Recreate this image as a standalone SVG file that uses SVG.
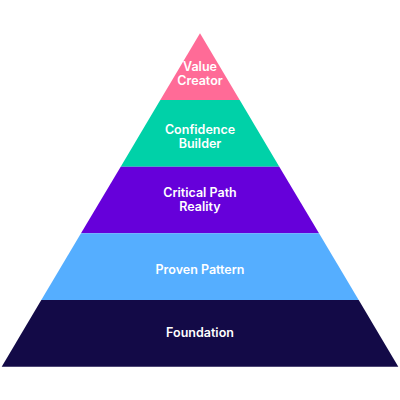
<svg xmlns="http://www.w3.org/2000/svg" width="400" height="400" viewBox="0 0 400 400">
<style>
.lbl{font-family:Inter,"Noto Sans","Liberation Sans",sans-serif;font-size:12.5px;font-weight:600;fill:#ffffff;text-anchor:middle}
</style>
<rect width="400" height="400" fill="#ffffff"/>
<g id="layer-value-creator">
<polygon points="200,33.3 239.7,100 160.3,100" fill="#FF6B97"/>
<text class="lbl" x="200" y="70.7">Value</text>
<text class="lbl" x="200" y="85">Creator</text>
</g>
<g id="layer-confidence-builder">
<polygon points="160.3,100 239.7,100 279.3,166.7 120.7,166.7" fill="#00D1A8"/>
<text class="lbl" x="200" y="134">Confidence</text>
<text class="lbl" x="200" y="148.3">Builder</text>
</g>
<g id="layer-critical-path">
<polygon points="120.7,166.7 279.3,166.7 319,233.3 81,233.3" fill="#6600DA"/>
<text class="lbl" x="200" y="197.3">Critical Path</text>
<text class="lbl" x="200" y="211.3">Reality</text>
</g>
<g id="layer-proven-pattern">
<polygon points="81,233.3 319,233.3 358.7,300 41.3,300" fill="#55AEFF"/>
<text class="lbl" x="200" y="274.3">Proven Pattern</text>
</g>
<g id="layer-foundation">
<polygon points="41.3,300 358.7,300 398.3,366.7 1.7,366.7" fill="#130A47"/>
<text class="lbl" x="200" y="337.3">Foundation</text>
</g>
<g id="connectors"></g>
</svg>
